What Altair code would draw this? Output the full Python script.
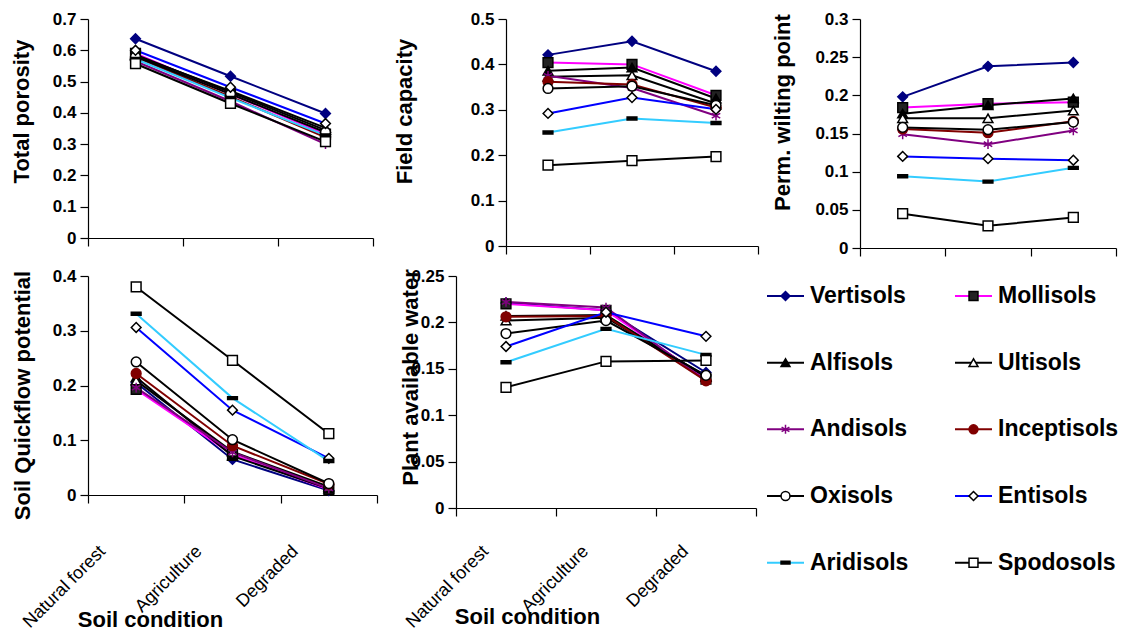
import altair as alt
import pandas as pd

soils = ["Vertisols", "Mollisols", "Alfisols", "Ultisols", "Andisols",
         "Inceptisols", "Oxisols", "Entisols", "Aridisols", "Spodosols"]
conditions = ["Natural forest", "Agriculture", "Degraded"]

# values per soil: [Natural forest, Agriculture, Degraded]
total_porosity = [
    [0.637, 0.517, 0.398], [0.590, 0.460, 0.332], [0.586, 0.466, 0.345],
    [0.583, 0.470, 0.352], [0.565, 0.437, 0.300], [0.578, 0.452, 0.322],
    [0.580, 0.460, 0.338], [0.600, 0.482, 0.366], [0.572, 0.448, 0.328],
    [0.557, 0.430, 0.308]]
field_capacity = [
    [0.421, 0.451, 0.385], [0.404, 0.400, 0.332], [0.386, 0.393, 0.325],
    [0.373, 0.376, 0.314], [0.375, 0.348, 0.287], [0.362, 0.356, 0.305],
    [0.347, 0.352, 0.310], [0.292, 0.327, 0.301], [0.250, 0.281, 0.271],
    [0.178, 0.188, 0.197]]
wilting_point = [
    [0.198, 0.238, 0.243], [0.184, 0.189, 0.191], [0.176, 0.187, 0.196],
    [0.170, 0.170, 0.180], [0.149, 0.136, 0.154], [0.156, 0.151, 0.166],
    [0.158, 0.155, 0.165], [0.120, 0.117, 0.115], [0.094, 0.087, 0.105],
    [0.045, 0.029, 0.040]]
quickflow = [
    [0.205, 0.065, 0.008], [0.193, 0.074, 0.010], [0.215, 0.071, 0.012],
    [0.209, 0.079, 0.015], [0.196, 0.078, 0.012], [0.222, 0.090, 0.020],
    [0.243, 0.101, 0.021], [0.306, 0.155, 0.067], [0.331, 0.177, 0.062],
    [0.380, 0.246, 0.112]]
available_water = [
    [0.221, 0.213, 0.146], [0.220, 0.213, 0.139], [0.207, 0.208, 0.141],
    [0.202, 0.205, 0.142], [0.222, 0.216, 0.137], [0.206, 0.207, 0.137],
    [0.188, 0.202, 0.143], [0.174, 0.211, 0.185], [0.157, 0.193, 0.165],
    [0.130, 0.158, 0.159]]

ticks_porosity = [0, 0.1, 0.2, 0.3, 0.4, 0.5, 0.6, 0.7]
ticks_fc = [0, 0.1, 0.2, 0.3, 0.4, 0.5]
ticks_pwp = [0, 0.05, 0.1, 0.15, 0.2, 0.25, 0.3]
ticks_qf = [0, 0.1, 0.2, 0.3, 0.4]
ticks_paw = [0, 0.05, 0.1, 0.15, 0.2, 0.25]

line_colors = ["#000080", "#FF00FF", "#000000", "#000000", "#800080",
               "#800000", "#000000", "#0000FF", "#33CCFF", "#000000"]
ASTERISK = "M0,-1V1M-0.87,-0.5L0.87,0.5M-0.87,0.5L0.87,-0.5"
DASH = "M-1,-0.3H1V0.3H-1Z"
marker_shapes = ["diamond", "square", "triangle-up", "triangle-up", ASTERISK,
                 "circle", "circle", "diamond", DASH, "square"]
marker_fills = ["#000080", "#222222", "#000000", "#FFFFFF", "transparent",
                "#800000", "#FFFFFF", "#FFFFFF", "#000000", "#FFFFFF"]
marker_strokes = ["#000080", "#000000", "#000000", "#000000", "#800080",
                  "#800000", "#000000", "#000000", "#000000", "#000000"]

FONT = "Liberation Sans, Arial, sans-serif"


def long_df(values):
    rows = []
    for s, vals in zip(soils, values):
        for c, v in zip(conditions, vals):
            rows.append({"soil": s, "condition": c, "value": v})
    return pd.DataFrame(rows)


color_enc = alt.Color("soil:N", scale=alt.Scale(domain=soils, range=line_colors), legend=None)
shape_enc = alt.Shape("soil:N", scale=alt.Scale(domain=soils, range=marker_shapes), legend=None)
fill_enc = alt.Fill("soil:N", scale=alt.Scale(domain=soils, range=marker_fills), legend=None)
stroke_enc = alt.Stroke("soil:N", scale=alt.Scale(domain=soils, range=marker_strokes), legend=None)

cond_list = "[" + ",".join("'" + c + "'" for c in conditions) + "]"
x_scale = alt.Scale(domain=[0, len(conditions)], nice=False, zero=False)


def panel(values, title, yticks, width, height, title_x, title_y,
          bottom=False, lab_pad=40, lab_off=20, xt_x=0, xt_y=0):
    df = long_df(values)
    tick_axis = alt.Axis(values=[0, 1, 2, 3], labels=False, title=None, orient="bottom")
    if bottom:
        label_axis = alt.Axis(values=[0, 1, 2], ticks=False, domain=False, orient="bottom",
                              labelAngle=315, labelAlign="right", labelBaseline="top",
                              labelPadding=8 + lab_pad, labelOffset=lab_off,
                              labelFontSize=18, labelFontWeight="normal",
                              labelOverlap=False,
                              labelExpr=cond_list + "[datum.value]",
                              title="Soil condition", titleX=xt_x, titleY=xt_y,
                              titleAlign="center", titleBaseline="middle",
                              titleFontSize=22)
    else:
        label_axis = tick_axis
    y = alt.Y("value:Q",
              scale=alt.Scale(domain=[yticks[0], yticks[-1]], nice=False),
              axis=alt.Axis(values=yticks, format=".2~f", title=title,
                            labelFontWeight="bold", labelFontSize=17,
                            titleX=title_x, titleY=title_y, titleAngle=270,
                            titleAlign="center", titleBaseline="middle"))
    base = alt.Chart(df).transform_calculate(
        xpos="indexof(" + cond_list + ", datum.condition) + 0.5")
    lines = base.mark_line(strokeWidth=2).encode(
        x=alt.X("xpos:Q", scale=x_scale, axis=tick_axis), y=y,
        color=color_enc, detail="soil:N")
    points = base.mark_point(size=95, opacity=1, fillOpacity=1, strokeWidth=1.5).encode(
        x=alt.X("xpos:Q", scale=x_scale, axis=label_axis), y=y,
        shape=shape_enc, fill=fill_enc, stroke=stroke_enc)
    layered = alt.layer(lines, points).properties(width=width, height=height)
    if bottom:
        layered = layered.resolve_axis(x="independent")
    return layered


p1 = panel(total_porosity, "Total porosity", ticks_porosity, 285, 219, -67, 92)
p2 = panel(field_capacity, "Field capacity", ticks_fc, 252, 227, -102, 92)
p3 = panel(wilting_point, "Perm. wilting point", ticks_pwp, 256, 229, -78, 93)
p4 = panel(quickflow, "Soil Quickflow potential", ticks_qf, 289, 219, -66, 119,
           bottom=True, lab_pad=39, lab_off=8, xt_x=62, xt_y=124)
p5 = panel(available_water, "Plant available water", ticks_paw, 300, 232, -46, 101,
           bottom=True, lab_pad=26, lab_off=23, xt_x=71, xt_y=108)

# custom legend
legend_df = pd.DataFrame({"soil": soils, "order": list(range(len(soils)))})
lbase = alt.Chart(legend_df).transform_calculate(
    col="datum.order % 2", row="floor(datum.order / 2)"
).transform_calculate(
    x0="datum.col * 188", x1="datum.col * 188 + 37",
    xm="datum.col * 188 + 18.5", xt="datum.col * 188 + 43")
lx = alt.Scale(domain=[0, 330], nice=False, zero=False)
ly = alt.Scale(domain=[-0.3, 4.2], nice=False, zero=False, reverse=True)
leg_lines = lbase.mark_rule(strokeWidth=2).encode(
    x=alt.X("x0:Q", scale=lx, axis=None), x2="x1:Q",
    y=alt.Y("row:Q", scale=ly, axis=None), color=color_enc)
leg_points = lbase.mark_point(size=80, opacity=1, fillOpacity=1, strokeWidth=1.5).encode(
    x=alt.X("xm:Q", scale=lx, axis=None), y=alt.Y("row:Q", scale=ly, axis=None),
    shape=shape_enc, fill=fill_enc, stroke=stroke_enc)
leg_text = lbase.mark_text(align="left", baseline="middle", fontSize=23,
                           fontWeight="bold", font=FONT, color="black").encode(
    x=alt.X("xt:Q", scale=lx, axis=None), y=alt.Y("row:Q", scale=ly, axis=None),
    text="soil:N")
legend = alt.layer(leg_lines, leg_points, leg_text).properties(width=330, height=300)

top = alt.hconcat(alt.hconcat(p1, p2, spacing=19), p3, spacing=12)
bottom = alt.hconcat(alt.hconcat(p4, p5, spacing=20), legend, spacing=9)

chart = alt.vconcat(top, bottom, spacing=10).properties(
    padding={"left": 2, "top": 2, "right": 0, "bottom": 0}
).configure_view(stroke=None).configure_axis(
    labelFont=FONT, labelFontSize=17, labelFontWeight="bold", labelColor="black",
    titleFont=FONT, titleFontSize=22, titleFontWeight="bold", titleColor="black",
    domainColor="black", tickColor="black", tickSize=8, grid=False,
    labelPadding=4, domainWidth=1.2, tickWidth=1.2
)

chart.save("out.html", embed_options={"renderer": "svg", "actions": False})
